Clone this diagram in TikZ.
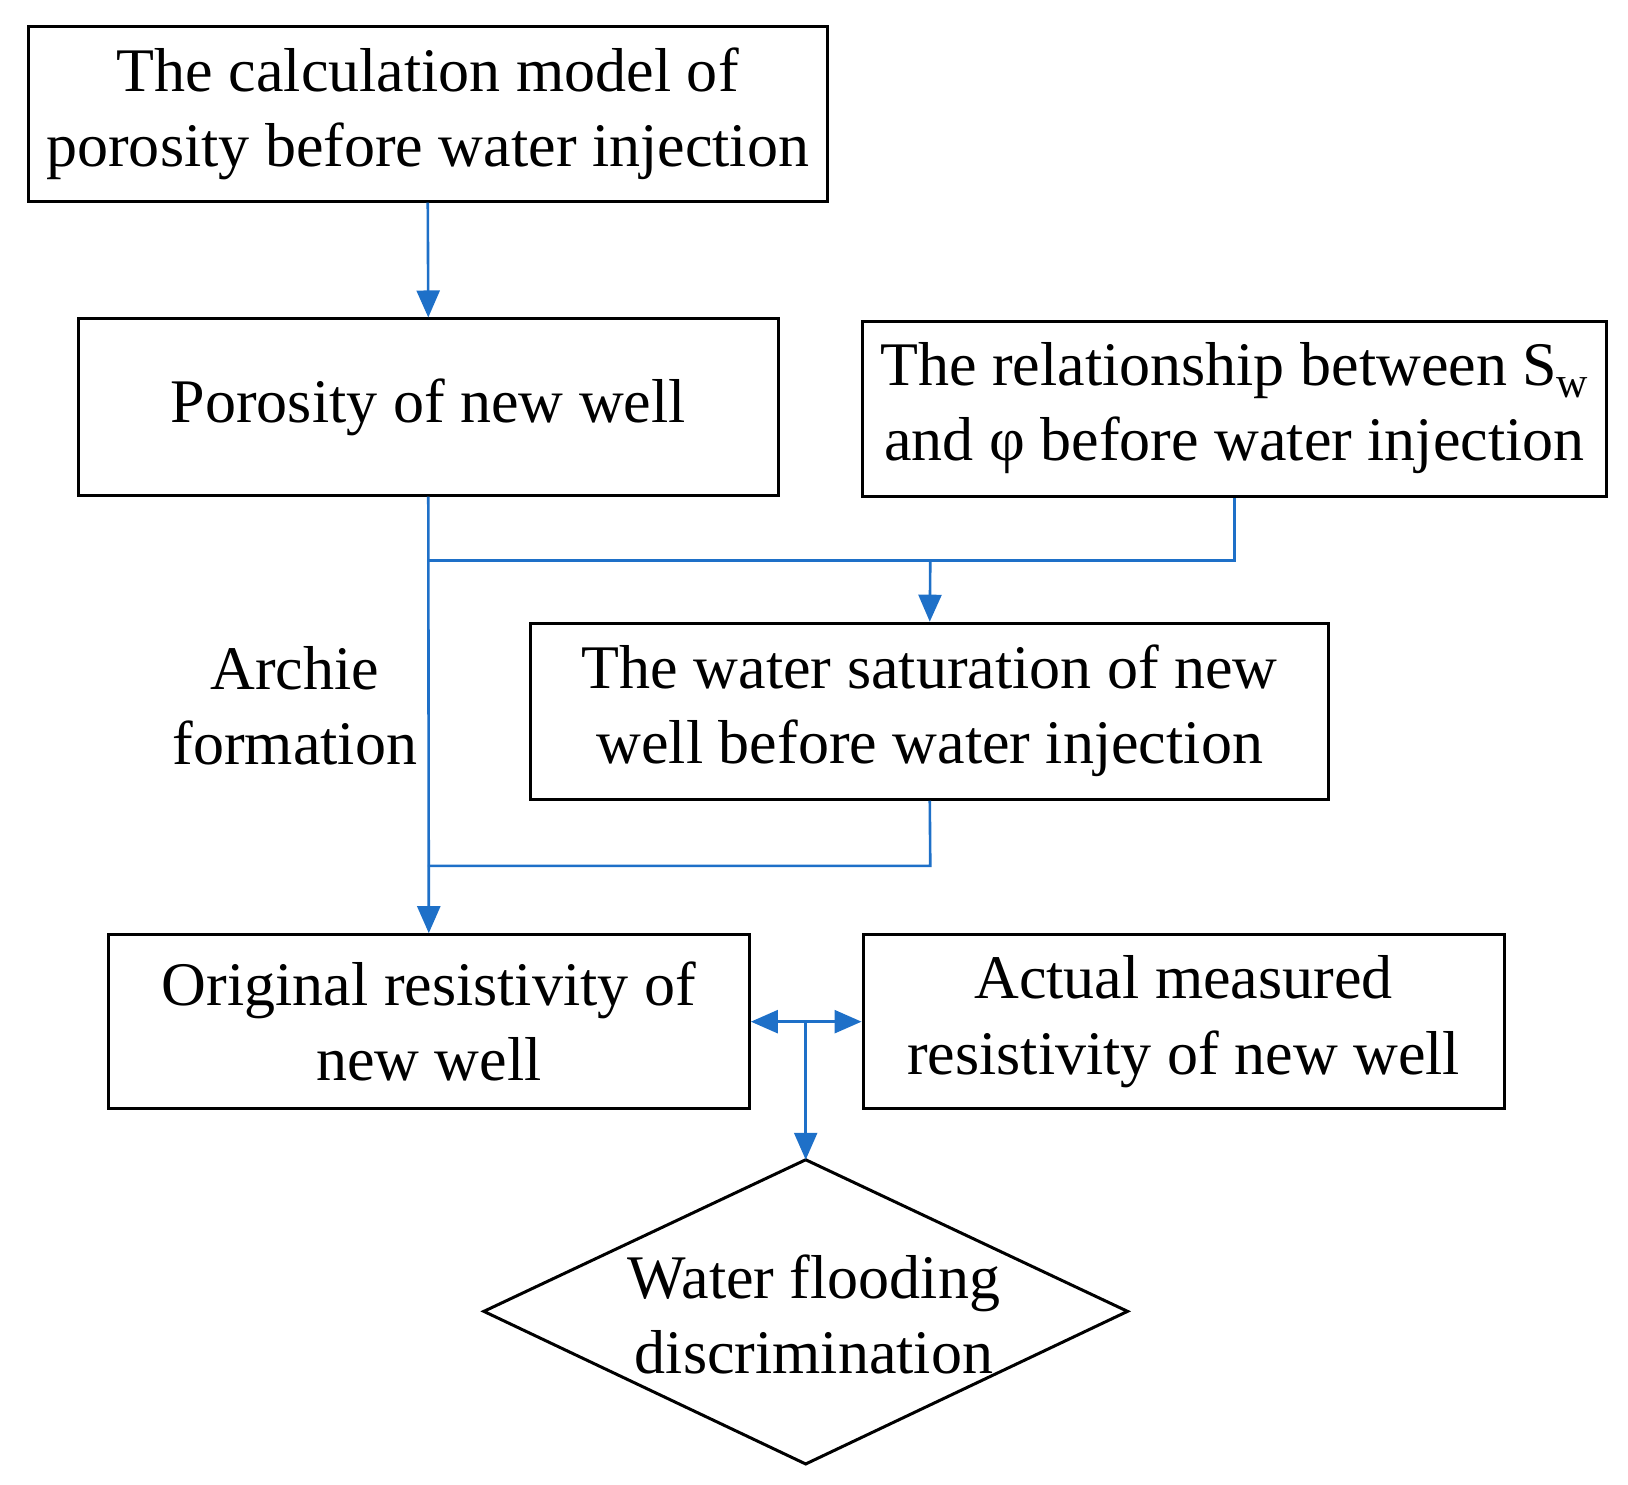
\documentclass[tikz,border=0pt]{standalone}
\usepackage{fontspec}
\setmainfont{Liberation Serif}
\usetikzlibrary{shapes.geometric,arrows.meta}
\definecolor{ln}{RGB}{30,112,200}
\begin{document}
\begin{tikzpicture}[x=1.038pt,y=-1.038pt,
 box/.style={draw,line width=3pt,inner sep=0pt,align=center,font=\fontsize{62}{75}\selectfont},
 con/.style={draw=ln,line width=2.6pt},
 arr/.style={con,-{Triangle[length=27pt,width=23pt]}}]
\useasboundingbox (0,0) rectangle (1568,1429.7);
\node[box,minimum width=799pt,minimum height=175pt] (b1) at (412,109.5) {The calculation model of\\porosity before water injection};
\node[box,minimum width=700pt,minimum height=176pt] (b2) at (412.5,392) {Porosity of new well};
\node[box,minimum width=743pt,minimum height=175pt] (b3) at (1189,393.5) {The relationship between S\textsubscript{w}\\and φ before water injection};
\node[box,minimum width=798pt,minimum height=176pt] (b4) at (895.5,685) {The water saturation of new\\well before water injection};
\node[box,minimum width=641pt,minimum height=174pt] (b5) at (413,984) {Original resistivity of\\new well};
\node[box,minimum width=641pt,minimum height=174pt] (b6) at (1140,984) {Actual measured\\resistivity of new well};
\coordinate (dt) at (776,1117);
\draw[line width=3pt,line join=miter] (dt) -- (1086,1263) -- (776,1410) -- (466,1263) -- cycle;
\node[align=center,font=\fontsize{62}{75}\selectfont] (d) at (784,1266) {Water flooding\\discrimination};
\node[align=center,font=\fontsize{62}{75}\selectfont] (lab) at (284,680) {Archie\\formation};
\coordinate (j1) at (412,540);
\coordinate (j2) at (896,540);
\coordinate (j3) at (896,834);
\coordinate (j4) at (412,834);
\coordinate (j5) at (776,984);
\draw[arr] (b1.south) -- (b2.north);
\draw[arr] (b2.south) -- (b5.north);
\draw[con] (j1) -- (1189,540) -- (b3.south);
\draw[arr] (j2) -- (b4.north);
\draw[con] (b4.south) -- (j3) -- (j4);
\draw[con,{Triangle[length=27pt,width=23pt]}-{Triangle[length=27pt,width=23pt]}] (b5.east) -- (b6.west);
\draw[arr] (j5) -- (dt);
\end{tikzpicture}
\end{document}
